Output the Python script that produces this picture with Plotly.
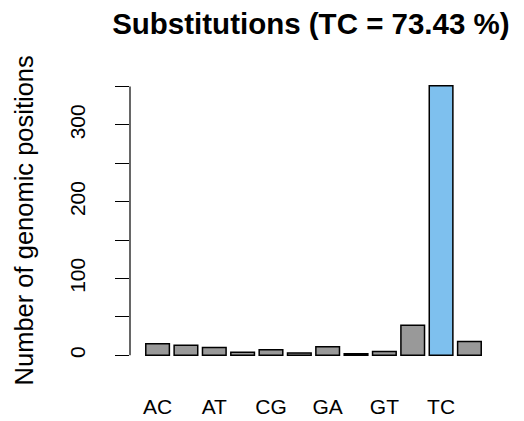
import plotly.graph_objects as go

# substitution types and counts
subs = ["AC", "AG", "AT", "CA", "CG", "CT", "GA", "GC", "GT", "TA", "TC", "TG"]
counts = [15, 13, 10, 4, 7, 3, 11, 2, 5, 39, 351, 18]
bar_colors = ["#999999"] * 10 + ["#7EC0EE", "#999999"]

y_ticks = [0, 50, 100, 150, 200, 250, 300, 350]
y_ticktext = ["0", "", "100", "", "200", "", "300", ""]

pct = 100 * counts[subs.index("TC")] / sum(counts)

fig = go.Figure()
fig.add_trace(
    go.Bar(
        x=subs,
        y=counts,
        marker=dict(color=bar_colors, line=dict(color="black", width=1.5)),
        width=1 / 1.2,
    )
)

# R style axis line only over the tick range
fig.add_shape(
    type="line", xref="paper", yref="y",
    x0=0, x1=0, y0=y_ticks[0], y1=y_ticks[-1],
    line=dict(color="black", width=1.2),
)

# y axis title placed like R's mtext
fig.add_annotation(
    text="Number of genomic positions",
    xref="paper", yref="paper", x=-0.289, y=0.5,
    xanchor="center", yanchor="middle",
    textangle=-90, showarrow=False,
    font=dict(size=25.5),
)

ymax = max(counts)
# page body adds an 8px margin, so the figure is 8px smaller than the window
fig.update_layout(
    width=516,
    height=413,
    plot_bgcolor="white",
    paper_bgcolor="white",
    showlegend=False,
    margin=dict(l=122, r=27, t=67, b=55),
    font=dict(family="Liberation Sans, Arial, sans-serif", size=21, color="black"),
    title=dict(
        text="<b>Substitutions (TC = %.2f %%)</b>" % pct,
        x=0.587, xanchor="center", y=0.961, yanchor="middle",
        font=dict(size=29.5),
    ),
    xaxis=dict(
        range=[-0.973, 11.973],
        tickvals=subs[::2],
        showline=False, showgrid=False, ticks="",
        tickfont=dict(size=21),
        ticklabelstandoff=26,
        automargin=False,
    ),
    yaxis=dict(
        range=[-0.04 * ymax, 1.04 * ymax],
        tickvals=y_ticks, ticktext=y_ticktext,
        tickangle=-90,
        ticks="outside", ticklen=14, tickwidth=1.2, tickcolor="black",
        tickfont=dict(size=21),
        ticklabelstandoff=22,
        showline=False, showgrid=False, zeroline=False,
        automargin=False,
    ),
)

fig.write_html("out.html")
